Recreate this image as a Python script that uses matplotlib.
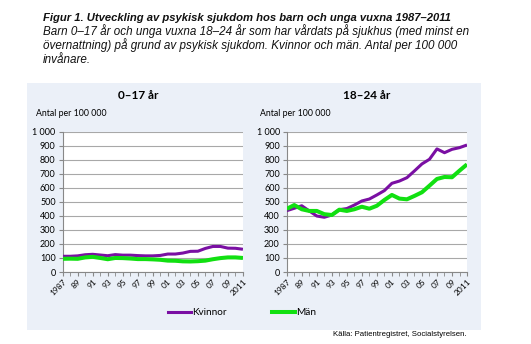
import numpy as np
import matplotlib.pyplot as plt
from matplotlib.patches import Rectangle
from matplotlib.lines import Line2D

years = list(range(1987, 2012))
tick_labels = ['1987', '89', '91', '93', '95', '97', '99', '01', '03', '05', '07', '09', '2011']

# 0-17 år
kvinnor_0_17 = [112, 112, 115, 123, 126, 121, 116, 124, 120, 120, 117, 115, 115, 118, 128, 128, 135, 147, 148, 168, 182, 182, 170, 169, 162]
man_0_17 = [94, 95, 94, 104, 108, 100, 91, 100, 99, 96, 92, 92, 90, 87, 81, 80, 76, 75, 77, 81, 91, 99, 104, 104, 100]

# 18-24 år
kvinnor_18_24 = [437, 454, 472, 435, 399, 390, 406, 444, 452, 477, 506, 520, 549, 580, 632, 648, 672, 720, 770, 803, 877, 850, 874, 886, 905]
man_18_24 = [450, 477, 447, 435, 435, 412, 406, 444, 435, 447, 465, 451, 472, 513, 549, 523, 518, 542, 568, 615, 663, 677, 675, 722, 767]

purple = '#7A0FA3'
green = '#11E011'
bg = '#EBF0F8'
tfont = 'Lato'

fig = plt.figure(figsize=(5.31, 3.44), dpi=100)
fig.patches.append(Rectangle((0.0508, 0.0407), 0.855, 0.718, transform=fig.transFigure,
                             facecolor=bg, edgecolor='none', zorder=-10))

# caption
cap = dict(fontfamily='Liberation Sans', style='italic', color='#111111')
fig.text(0.081, 0.940, 'Figur 1. Utveckling av psykisk sjukdom hos barn och unga vuxna 1987\u20132011',
         fontweight='bold', fontsize=8.1, **cap)
fig.text(0.081, 0.898, 'Barn 0\u201317 år och unga vuxna 18\u201324 år som har vårdats på sjukhus (med minst en',
         fontsize=8.4, **cap)
fig.text(0.081, 0.857, 'övernattning) på grund av psykisk sjukdom. Kvinnor och män. Antal per 100 000',
         fontsize=8.4, **cap)
fig.text(0.081, 0.816, 'invånare.', fontsize=8.4, **cap)


def panel(left, kv, ma, title, title_x, antal_x):
    ax = fig.add_axes([left, 0.2093, 0.3395, 0.408])
    x = np.arange(len(years))
    ax.plot(x, kv, color=purple, lw=2.2, solid_capstyle='butt', zorder=3)
    ax.plot(x, ma, color=green, lw=2.9, solid_capstyle='butt', zorder=3)
    ax.set_xlim(0, len(years) - 1)
    ax.set_ylim(0, 1000)
    ax.set_yticks(range(0, 1001, 100))
    ax.set_yticklabels([f'{v:,}'.replace(',', ' ') for v in range(0, 1001, 100)],
                       fontsize=6.5, fontfamily=tfont)
    ax.set_xticks(x[::2])
    ax.set_xticks(x, minor=True)
    ax.set_xticklabels(tick_labels, rotation=45, ha='right', rotation_mode='anchor',
                       fontsize=6.0, fontfamily=tfont)
    ax.tick_params(axis='x', which='both', length=3, color='#888888', pad=1)
    ax.tick_params(axis='y', length=3, color='#888888', pad=2)
    ax.grid(axis='y', color='#A8A8A8', lw=0.8)
    ax.set_axisbelow(True)
    for s in ['top', 'right']:
        ax.spines[s].set_visible(False)
    for s in ['left', 'bottom']:
        ax.spines[s].set_color('#888888')
        ax.spines[s].set_linewidth(0.8)
    fig.text(title_x, 0.721, title, ha='center', va='center', fontsize=8.5,
             fontweight='bold', fontfamily=tfont)
    fig.text(antal_x, 0.6715, 'Antal per 100 000', ha='left', va='center',
             fontsize=6.3, fontfamily=tfont)
    return ax


panel(0.118, kvinnor_0_17, man_0_17, '0\u201317 år', 0.26, 0.068)
panel(0.540, kvinnor_18_24, man_18_24, '18\u201324 år', 0.691, 0.49)

# legend
fig.lines.append(Line2D([168 / 531, 191 / 531], [0.093, 0.093], transform=fig.transFigure,
                        color=purple, lw=2.2))
fig.text(192 / 531, 0.093, 'Kvinnor', va='center', fontsize=7.2, fontfamily=tfont)
fig.lines.append(Line2D([272 / 531, 295 / 531], [0.093, 0.093], transform=fig.transFigure,
                        color=green, lw=2.9))
fig.text(296 / 531, 0.093, 'Män', va='center', fontsize=7.2, fontfamily=tfont)

fig.text(466 / 531, 0.029, 'Källa: Patientregistret, Socialstyrelsen.', ha='right', va='center',
         fontsize=5.6, fontfamily='Liberation Sans')

fig.savefig('out.png', dpi=100)
